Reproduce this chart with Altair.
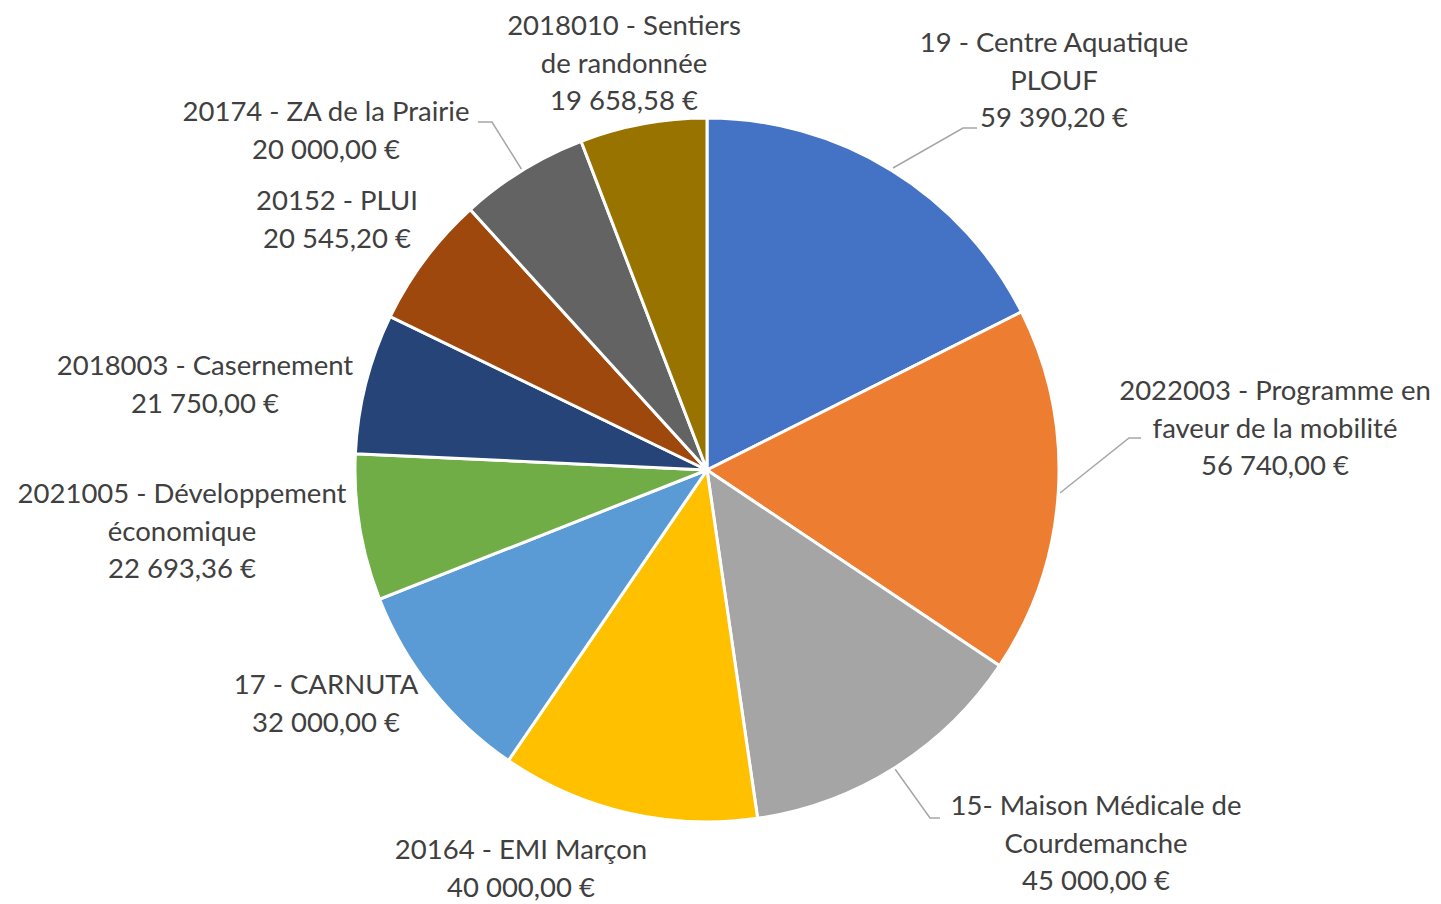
import altair as alt
import pandas as pd

# ---- data ----
projects = [
    "19 - Centre Aquatique PLOUF",
    "2022003 - Programme en faveur de la mobilité",
    "15- Maison Médicale de Courdemanche",
    "20164 - EMI Marçon",
    "17 - CARNUTA",
    "2021005 - Développement économique",
    "2018003 - Casernement",
    "20152 - PLUI",
    "20174 - ZA de la Prairie",
    "2018010 - Sentiers de randonnée",
]
amounts = [59390.20, 56740.00, 45000.00, 40000.00, 32000.00,
           22693.36, 21750.00, 20545.20, 20000.00, 19658.58]
label_texts = [
    ["19 - Centre Aquatique", "PLOUF", "59 390,20 €"],
    ["2022003 - Programme en", "faveur de la mobilité", "56 740,00 €"],
    ["15- Maison Médicale de", "Courdemanche", "45 000,00 €"],
    ["20164 - EMI Marçon", "40 000,00 €"],
    ["17 - CARNUTA", "32 000,00 €"],
    ["2021005 - Développement", "économique", "22 693,36 €"],
    ["2018003 - Casernement", "21 750,00 €"],
    ["20152 - PLUI", "20 545,20 €"],
    ["20174 - ZA de la Prairie", "20 000,00 €"],
    ["2018010 - Sentiers", "de randonnée", "19 658,58 €"],
]
colors = ["#4472C4", "#ED7D31", "#A5A5A5", "#FFC000", "#5B9BD5",
          "#70AD47", "#264478", "#9E480E", "#636363", "#997300"]

# ---- layout (annotation placement, pixel space of the chart) ----
W, H = 1425, 896
CX, CY, R = 699, 462, 352
label_pos = [(1046, 36), (1267, 384), (1088, 799), (513, 843), (318, 678),
             (174, 487), (197, 359), (329, 194), (318, 105), (616, 19)]
leaders = {
    0: [(885, 160), (955, 120), (969, 120)],
    1: [(1052, 485), (1121, 430), (1133, 430)],
    2: [(887, 761), (922, 810), (932, 810)],
    8: [(514, 162), (484, 114), (470, 114)],
}

pie_df = pd.DataFrame({"project": projects, "amount": amounts,
                       "idx": list(range(len(projects)))})

lab_df = pd.DataFrame({
    "text": label_texts,
    "x": [p[0] for p in label_pos],
    "y": [p[1] for p in label_pos],
})

rows = []
for k, pts in leaders.items():
    for j, (x, y) in enumerate(pts):
        rows.append({"id": k, "o": j, "x": x, "y": y})
lead_df = pd.DataFrame(rows)

pie = alt.Chart(pie_df).mark_arc(stroke="white", strokeWidth=3).encode(
    theta=alt.Theta("amount:Q", stack=True),
    order=alt.Order("idx:Q"),
    color=alt.Color("project:N", scale=alt.Scale(domain=projects, range=colors), legend=None),
    x=alt.value(CX), y=alt.value(CY),
    radius=alt.value(R),
)

labels = alt.Chart(lab_df).mark_text(
    font="Lato", fontSize=27.5, color="#404040", align="center", baseline="middle",
    lineHeight=37.5,
).encode(
    x=alt.X("x:Q", scale=None), y=alt.Y("y:Q", scale=None), text="text"
)

lines = alt.Chart(lead_df).mark_line(color="#A6A6A6", strokeWidth=1.5).encode(
    x=alt.X("x:Q", scale=None), y=alt.Y("y:Q", scale=None),
    detail="id:N", order="o:Q",
)

chart = alt.layer(lines, pie, labels).properties(
    width=W, height=H, autosize=alt.AutoSizeParams(type="none"), padding=0,
).configure_view(stroke=None)

chart.save("out.html", embed_options={"renderer": "svg", "actions": False})
